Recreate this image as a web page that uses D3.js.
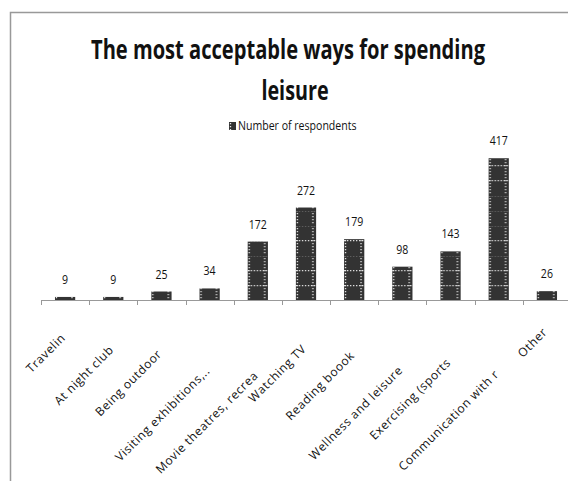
<!DOCTYPE html>
<html>
<head>
<meta charset="utf-8">
<script src="https://cdn.jsdelivr.net/npm/d3@7"></script>
<style>
  body { margin: 0; background: #fff; }
  svg { display: block; font-family: "Open Sans", sans-serif; }
</style>
</head>
<body>
<svg id="chart"></svg>
<script>
const width = 568;
const height = 481;

// labels as they show on the axis (cut off in the original)
const categories = ["Travelin", "At night club", "Being outdoor", "Visiting exhibitions,..", "Movie theatres, recrea",
  "Watching TV", "Reading boook", "Wellness and leisure", "Exercising (sports", "Communication with r", "Other"];
const values = [9, 9, 25, 34, 172, 272, 179, 98, 143, 417, 26];
const seriesName = "Number of respondents";
const titleLines = ["The most acceptable ways for spending", "leisure"];

const baseY = 300;

const svg = d3.select("#chart").attr("width", width).attr("height", height);

const defs = svg.append("defs");

const xScale = d3.scaleBand()
  .domain(categories)
  .range([41, 571])
  .paddingInner(0.58)
  .paddingOuter(0.29);

const yScale = d3.scaleLinear().domain([0, 450]).range([baseY, 147]);

// squeeze text horizontally, the original font is a narrow one
function squeeze(sel, ratio) {
  sel.each(function () {
    const len = this.getComputedTextLength();
    d3.select(this)
      .attr("textLength", len * ratio)
      .attr("lengthAdjust", "spacingAndGlyphs");
  });
}

// dotted grid pattern, one per bar so it lines up with the bar edge
function addPattern(id, x0) {
  const p = defs.append("pattern")
    .attr("id", id)
    .attr("patternUnits", "userSpaceOnUse")
    .attr("x", x0)
    .attr("y", baseY)
    .attr("width", 48)
    .attr("height", 15);
  p.append("rect").attr("width", 48).attr("height", 15).attr("fill", "#333");
  const line = (x1, y1, x2, y2) => p.append("line")
    .attr("x1", x1).attr("y1", y1).attr("x2", x2).attr("y2", y2)
    .attr("stroke", "#e8e8e8")
    .attr("stroke-width", 1.3)
    .attr("stroke-dasharray", "1.3,1.7");
  line(1.5, 0, 1.5, 15);
  line(17, 0, 17, 15);
  line(0, 0.7, 48, 0.7);
}

categories.forEach((c, i) => addPattern("pat" + i, xScale(c)));
addPattern("patLegend", 229);

// frame
svg.append("path")
  .attr("d", `M10.5,${height} V12.5 H${width}`)
  .attr("fill", "none")
  .attr("stroke", "#999")
  .attr("stroke-width", 1.5);

// title
svg.append("text")
  .attr("x", 91)
  .attr("y", 59)
  .attr("font-size", 26)
  .attr("font-weight", "bold")
  .attr("fill", "#111")
  .attr("textLength", 394)
  .attr("lengthAdjust", "spacingAndGlyphs")
  .text(titleLines[0]);

svg.append("text")
  .attr("x", 295)
  .attr("y", 100)
  .attr("text-anchor", "middle")
  .attr("font-size", 26)
  .attr("font-weight", "bold")
  .attr("fill", "#111")
  .text(titleLines[1])
  .call(squeeze, 0.76);

// legend
const legend = svg.append("g");
legend.append("rect")
  .attr("x", 229).attr("y", 122)
  .attr("width", 7).attr("height", 8)
  .attr("fill", "url(#patLegend)");
legend.append("text")
  .attr("x", 238).attr("y", 130)
  .attr("font-size", 12)
  .attr("fill", "#111")
  .text(seriesName)
  .call(squeeze, 0.88);

// axis line with ticks on the category boundaries
const axis = svg.append("g");
axis.append("line")
  .attr("x1", 41).attr("x2", width)
  .attr("y1", baseY + 0.5).attr("y2", baseY + 0.5)
  .attr("stroke", "#999");
axis.selectAll(".tick")
  .data(d3.range(categories.length + 1))
  .join("line")
  .attr("class", "tick")
  .attr("x1", i => Math.round(41 + i * xScale.step()) + 0.5)
  .attr("x2", i => Math.round(41 + i * xScale.step()) + 0.5)
  .attr("y1", baseY)
  .attr("y2", baseY + 5)
  .attr("stroke", "#999");

// bars
svg.selectAll(".bar")
  .data(values)
  .join("rect")
  .attr("class", "bar")
  .attr("x", (d, i) => xScale(categories[i]))
  .attr("y", d => yScale(d))
  .attr("width", xScale.bandwidth())
  .attr("height", d => baseY - yScale(d))
  .attr("fill", (d, i) => `url(#pat${i})`);

// value labels
svg.selectAll(".val")
  .data(values)
  .join("text")
  .attr("class", "val")
  .attr("x", (d, i) => xScale(categories[i]) + xScale.bandwidth() / 2)
  .attr("y", d => yScale(d) - 13)
  .attr("text-anchor", "middle")
  .attr("font-size", 12)
  .attr("fill", "#111")
  .text(d => d)
  .call(squeeze, 0.88);

// category labels, rotated
const labels = svg.selectAll(".cat")
  .data(categories)
  .join("text")
  .attr("class", "cat")
  .attr("text-anchor", "end")
  .attr("font-size", 12)
  .attr("letter-spacing", 0.6)
  .attr("fill", "#111")
  .text(d => d);

labels.each(function (d) {
  const len = this.getComputedTextLength();
  const cx = xScale(d) + xScale.bandwidth() / 2 + 1;
  const cy = baseY + 18 + 0.42 * len;
  d3.select(this).attr("transform", `translate(${cx},${cy}) rotate(-45)`);
});
</script>
</body>
</html>
